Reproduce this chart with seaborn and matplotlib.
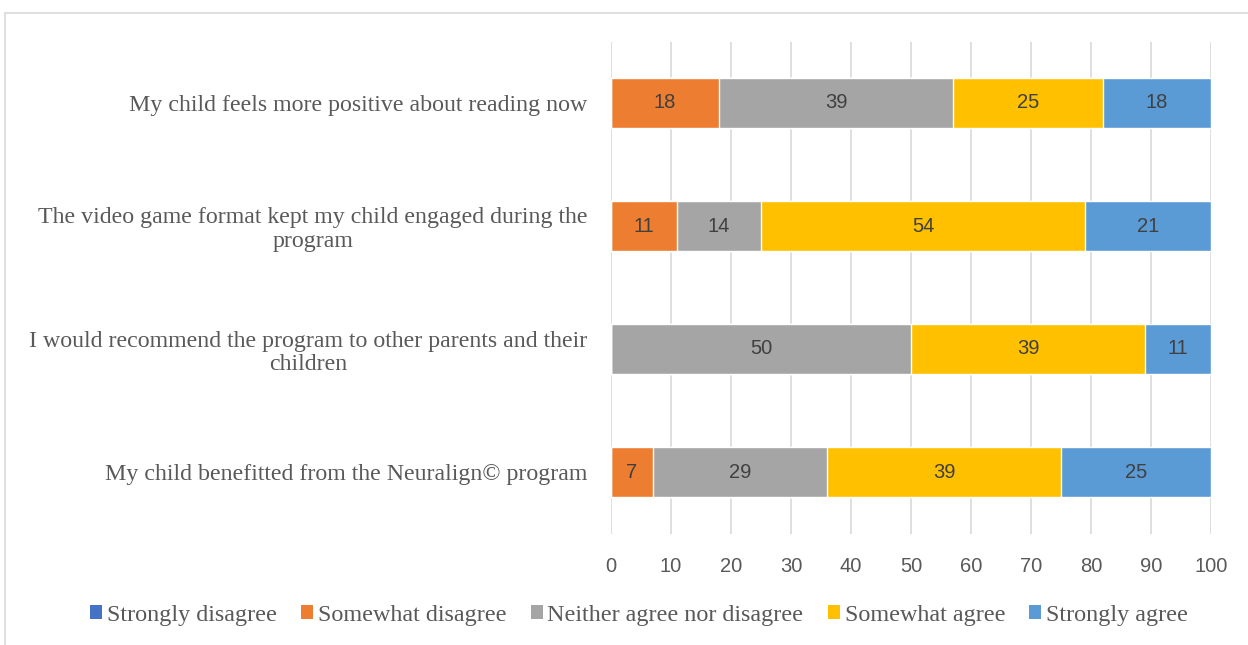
import matplotlib
matplotlib.use("Agg")
import matplotlib.pyplot as plt
from matplotlib.patches import Rectangle
import numpy as np
import pandas as pd
import seaborn as sns

# Survey statements (top to bottom) and response shares (%)
statements = [
    "My child feels more positive about reading now",
    "The video game format kept my child engaged during the\nprogram",
    "I would recommend the program to other parents and their\nchildren",
    "My child benefitted from the Neuralign\u00a9 program",
]
responses = ["Strongly disagree", "Somewhat disagree", "Neither agree nor disagree",
             "Somewhat agree", "Strongly agree"]
strongly_disagree = [0, 0, 0, 0]
somewhat_disagree = [18, 11, 0, 7]
neither = [39, 14, 50, 29]
somewhat_agree = [25, 54, 39, 39]
strongly_agree = [18, 21, 11, 25]
x_ticks = [0, 10, 20, 30, 40, 50, 60, 70, 80, 90, 100]

colors = ["#4472C4", "#ED7D31", "#A5A5A5", "#FFC000", "#5B9BD5"]

series = [strongly_disagree, somewhat_disagree, neither, somewhat_agree, strongly_agree]
df = pd.DataFrame({name: vals for name, vals in zip(responses, series)})
df["statement"] = statements
cum = df[responses].cumsum(axis=1)

sns.set_theme(style="white")
W, H = 1248, 645
fig = plt.figure(figsize=(W / 100, H / 100), dpi=100)
fig.patch.set_facecolor("white")

# light outer chart frame
fig.patches.append(Rectangle((5 / W, -0.1), 1.2, 1 - 13 / H + 0.1, transform=fig.transFigure,
                             fill=False, edgecolor="#D9D9D9", linewidth=1.2, zorder=0))

ax = fig.add_axes([611 / W, 1 - 533.5 / H, 600 / W, 492 / H])

# stacked bars: draw cumulative totals from the last series backwards
for name, col in reversed(list(zip(responses, colors))):
    sns.barplot(x=cum[name], y=df["statement"], orient="h", color=col,
                width=0.4, saturation=1, ax=ax, zorder=3)

# value labels centred in each segment
for name in responses:
    for i in range(len(statements)):
        v = df[name].iloc[i]
        if v > 0:
            mid = cum[name].iloc[i] - v / 2
            ax.text(mid, i, f"{v}", ha="center", va="center",
                    fontsize=14.5, color="#404040", family="Liberation Sans", zorder=5)

ax.set_xlim(0, 100)
ax.set_ylim(len(statements) - 0.5, -0.5)
ax.set_xticks(x_ticks)
ax.set_xticklabels([str(t) for t in x_ticks], family="Liberation Sans",
                   fontsize=14.5, color="#595959")
ax.set_yticklabels(statements, family="Liberation Serif", fontsize=17.2,
                   color="#595959", multialignment="center", linespacing=1.15)
ax.tick_params(axis="x", length=0, pad=17)
ax.tick_params(axis="y", length=0, pad=17)
ax.set_xlabel("")
ax.set_ylabel("")
for s in ax.spines.values():
    s.set_visible(False)
ax.xaxis.grid(True, color="#D9D9D9", linewidth=1.2, zorder=0)
ax.yaxis.grid(False)
ax.set_axisbelow(True)

handles = [Rectangle((0, 0), 1, 1, facecolor=c, edgecolor="none") for c in colors]
fig.legend(handles, responses, loc="center", bbox_to_anchor=(639 / W, 1 - 615 / H),
           ncol=5, frameon=False, handlelength=0.5, handleheight=0.5,
           handletextpad=0.2, columnspacing=1.0,
           prop={"family": "Liberation Serif", "size": 17.4}, labelcolor="#595959")

fig.savefig("out.png", dpi=100, facecolor="white")
